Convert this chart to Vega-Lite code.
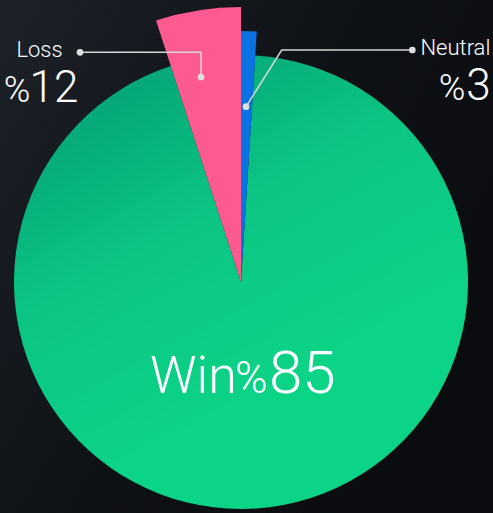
{
  "$schema": "https://vega.github.io/schema/vega-lite/v6.json",
  "width": 493,
  "height": 513,
  "padding": 0,
  "autosize": {"type": "none"},
  "background": "#0f1217",
  "config": {
    "view": {"stroke": null, "fill": {"gradient": "linear", "x1": 0, "y1": 0, "x2": 1, "y2": 0.6, "stops": [{"offset": 0, "color": "#1d2229"}, {"offset": 0.55, "color": "#0e1115"}, {"offset": 1, "color": "#0a0c10"}]}},
    "axis": {"disable": true}
  },
  "datasets": {
    "slices": [
      {"label": "Neutral", "pct": 3, "drawnShare": 1, "ord": 0},
      {"label": "Win", "pct": 85, "drawnShare": 94, "ord": 1},
      {"label": "Loss", "pct": 12, "drawnShare": 5, "ord": 2}
    ],
    "leaders": [
      {"k": "Loss", "i": 0, "x": -0.7093, "y": 1.0119},
      {"k": "Loss", "i": 1, "x": -0.1762, "y": 1.0119},
      {"k": "Loss", "i": 2, "x": -0.1762, "y": 0.9031},
      {"k": "Neutral", "i": 0, "x": 0.7548, "y": 1.022},
      {"k": "Neutral", "i": 1, "x": 0.1793, "y": 1.022},
      {"k": "Neutral", "i": 2, "x": 0.022, "y": 0.7722}
    ]
  },
  "layer": [
    {
      "data": {"name": "slices"},
      "transform": [
        {"stack": "drawnShare", "groupby": [], "sort": [{"field": "ord"}], "as": ["s0", "s1"]},
        {"filter": "datum.label === 'Win'"}
      ],
      "mark": {"type": "arc", "outerRadius": 227, "fill": {"gradient": "linear", "x1": 0.2, "y1": 0.0, "x2": 0.6, "y2": 0.75, "stops": [{"offset": 0, "color": "#05a076"}, {"offset": 0.5, "color": "#0bc583"}, {"offset": 1, "color": "#0cd487"}]}},
      "encoding": {
        "theta": {"field": "s0", "type": "quantitative", "scale": {"domain": [0, 100], "range": [0, 6.283185307]}},
        "theta2": {"field": "s1"},
        "x": {"datum": 0, "type": "quantitative", "scale": {"domain": [-1.0617, 1.1101], "nice": false, "zero": false}},
        "y": {"datum": 0, "type": "quantitative", "scale": {"domain": [-1.0176, 1.2423], "nice": false, "zero": false}}
      }
    },
    {
      "data": {"name": "slices"},
      "transform": [
        {"stack": "drawnShare", "groupby": [], "sort": [{"field": "ord"}], "as": ["s0", "s1"]},
        {"filter": "datum.label === 'Loss'"}
      ],
      "mark": {"type": "arc", "outerRadius": 275, "fill": "#fd5a8f"},
      "encoding": {
        "theta": {"field": "s0", "type": "quantitative"},
        "theta2": {"field": "s1"},
        "x": {"datum": 0, "type": "quantitative"},
        "y": {"datum": 0, "type": "quantitative"}
      }
    },
    {
      "data": {"name": "slices"},
      "transform": [
        {"stack": "drawnShare", "groupby": [], "sort": [{"field": "ord"}], "as": ["s0", "s1"]},
        {"filter": "datum.label === 'Neutral'"}
      ],
      "mark": {"type": "arc", "outerRadius": 251, "fill": "#0b72e3"},
      "encoding": {
        "theta": {"field": "s0", "type": "quantitative"},
        "theta2": {"field": "s1"},
        "x": {"datum": 0, "type": "quantitative"},
        "y": {"datum": 0, "type": "quantitative"}
      }
    },
    {
      "data": {"name": "leaders"},
      "mark": {"type": "line", "color": "#d4d6d8", "strokeWidth": 1.5},
      "encoding": {
        "x": {"field": "x", "type": "quantitative"},
        "y": {"field": "y", "type": "quantitative"},
        "detail": {"field": "k"},
        "order": {"field": "i"}
      }
    },
    {
      "data": {"name": "leaders"},
      "transform": [{"filter": "datum.i !== 1"}],
      "mark": {"type": "point", "filled": true, "color": "#dcdee0", "size": 45, "opacity": 1},
      "encoding": {
        "x": {"field": "x", "type": "quantitative"},
        "y": {"field": "y", "type": "quantitative"}
      }
    },
    {
      "data": {"values": [
        {"t": "Loss", "x": -0.8877, "y": 0.9925},
        {"t": "Neutral", "x": 0.9445, "y": 1.0}
      ]},
      "mark": {"type": "text", "font": "Roboto", "fontWeight": 300, "fontSize": 22, "color": "#ffffff", "baseline": "alphabetic", "align": "center"},
      "encoding": {
        "x": {"field": "x", "type": "quantitative"},
        "y": {"field": "y", "type": "quantitative"},
        "text": {"field": "t"}
      }
    },
    {
      "data": {"values": [{"t": "Win", "x": -0.401, "y": -0.489}]},
      "mark": {"type": "text", "font": "Roboto", "fontWeight": 300, "fontSize": 52, "color": "#ffffff", "baseline": "alphabetic", "align": "left"},
      "encoding": {
        "x": {"field": "x", "type": "quantitative"},
        "y": {"field": "y", "type": "quantitative"},
        "text": {"field": "t"}
      }
    },
    {
      "data": {"values": [{"t": "%", "x": -0.026, "y": -0.489}]},
      "mark": {"type": "text", "font": "Roboto", "fontWeight": 300, "fontSize": 44, "color": "#ffffff", "baseline": "alphabetic", "align": "left"},
      "encoding": {
        "x": {"field": "x", "type": "quantitative"},
        "y": {"field": "y", "type": "quantitative"},
        "text": {"field": "t"}
      }
    },
    {
      "data": {"values": [{"t": "85", "x": 0.123, "y": -0.489}]},
      "mark": {"type": "text", "font": "Roboto", "fontWeight": 300, "fontSize": 60, "color": "#ffffff", "baseline": "alphabetic", "align": "left"},
      "encoding": {
        "x": {"field": "x", "type": "quantitative"},
        "y": {"field": "y", "type": "quantitative"},
        "text": {"field": "t"}
      }
    },
    {
      "data": {"values": [
        {"t": "%", "x": -0.9868, "y": 0.793},
        {"t": "%", "x": 0.9295, "y": 0.8018}
      ]},
      "mark": {"type": "text", "font": "Roboto", "fontWeight": 300, "fontSize": 36, "color": "#ffffff", "baseline": "alphabetic", "align": "center"},
      "encoding": {
        "x": {"field": "x", "type": "quantitative"},
        "y": {"field": "y", "type": "quantitative"},
        "text": {"field": "t"}
      }
    },
    {
      "data": {"values": [
        {"t": "12", "x": -0.8238, "y": 0.793},
        {"t": "3", "x": 1.0463, "y": 0.8018}
      ]},
      "mark": {"type": "text", "font": "Roboto", "fontWeight": 300, "fontSize": 44, "color": "#ffffff", "baseline": "alphabetic", "align": "center"},
      "encoding": {
        "x": {"field": "x", "type": "quantitative"},
        "y": {"field": "y", "type": "quantitative"},
        "text": {"field": "t"}
      }
    }
  ]
}
